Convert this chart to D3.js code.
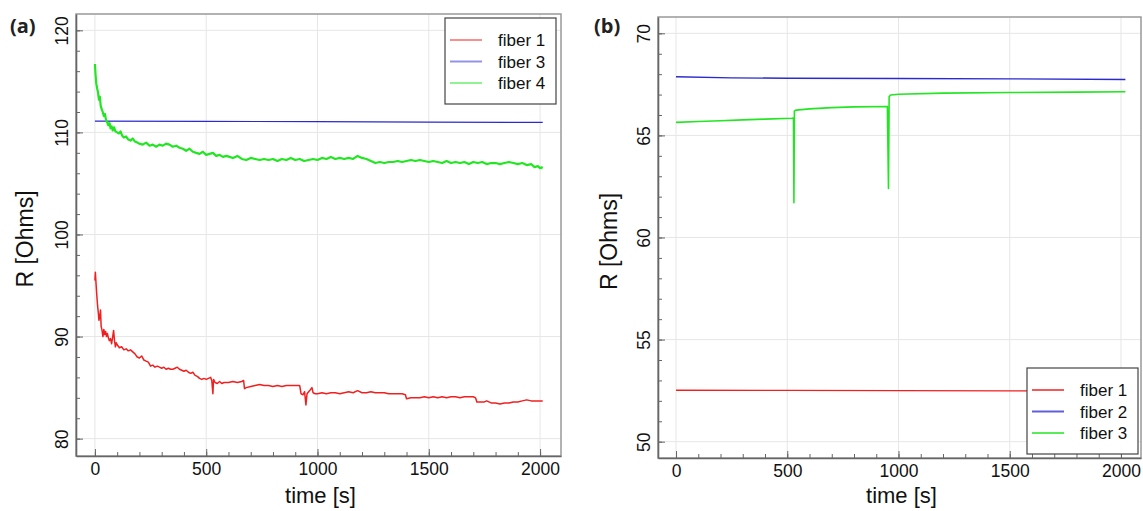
<!DOCTYPE html>
<html>
<head>
<meta charset="utf-8">
<script src="https://cdn.jsdelivr.net/npm/d3@7"></script>
<style>
  body { margin: 0; background: #fff; }
  svg { display: block; font-family: "Liberation Sans", Arial, sans-serif; }
</style>
</head>
<body>
<div id="chart"></div>
<script>
// ---- data ----
// panel (a)
const aFiber1 = [
  [0,95.5],[2,96.3],[5,95.2],[8,94.2],[12,93.0],[15,92.4],[18,91.6],[22,92.0],[25,92.6],[28,91.0],
  [32,90.6],[36,90.0],[40,90.7],[44,90.2],[48,90.5],[52,90.0],[56,90.3],[60,89.9],[65,89.6],[70,89.8],
  [75,89.3],[80,90.0],[84,90.6],[88,89.6],[92,89.0],[96,89.4],[100,89.2],[110,88.9],[120,89.0],[130,88.7],
  [140,88.8],[150,88.6],[160,88.7],[170,88.5],[180,88.3],[190,88.0],[200,87.9],[210,88.1],[220,87.7],[230,87.6],
  [240,87.5],[250,87.1],[260,87.2],[270,87.0],[280,87.1],[290,87.0],[300,86.9],[310,87.0],[320,86.8],[330,86.9],
  [340,86.8],[350,86.8],[360,86.9],[370,87.0],[380,86.8],[390,86.7],[400,86.6],[410,86.7],[420,86.5],[430,86.4],
  [440,86.5],[450,86.2],[460,86.1],[470,85.9],[480,85.8],[490,85.9],[500,85.8],[510,85.9],[520,86.0],[525,85.7],
  [530,84.4],[533,85.8],[540,85.5],[550,85.4],[560,85.6],[570,85.4],[580,85.5],[600,85.5],[620,85.6],[640,85.5],
  [660,85.6],[668,85.7],[672,84.9],[680,85.0],[700,85.1],[720,85.2],[740,85.3],[760,85.2],[780,85.2],[800,85.1],
  [820,85.2],[840,85.1],[860,85.2],[880,85.2],[900,85.2],[920,85.2],[926,84.4],[935,84.3],[942,84.6],[948,83.3],
  [953,84.4],[960,84.6],[968,84.8],[975,85.0],[980,84.5],[990,84.4],[1000,84.4],[1020,84.5],[1040,84.4],[1060,84.5],
  [1080,84.5],[1100,84.4],[1120,84.5],[1140,84.6],[1160,84.5],[1180,84.7],[1200,84.5],[1220,84.5],[1240,84.6],[1260,84.5],
  [1280,84.5],[1300,84.5],[1320,84.4],[1340,84.4],[1360,84.4],[1380,84.4],[1395,84.3],[1400,83.9],[1420,84.0],[1440,84.0],
  [1460,84.0],[1480,84.1],[1500,84.0],[1520,84.1],[1540,84.0],[1560,84.1],[1580,84.0],[1600,84.1],[1620,84.1],[1640,84.0],
  [1660,84.1],[1680,84.1],[1700,84.1],[1710,84.0],[1716,83.6],[1730,83.6],[1750,83.6],[1760,83.7],[1780,83.5],[1800,83.5],
  [1820,83.4],[1840,83.5],[1860,83.5],[1880,83.6],[1900,83.6],[1920,83.7],[1940,83.8],[1960,83.7],[1980,83.7],[2000,83.7],
  [2012,83.7]
];
const aFiber3 = [[0,111.1],[500,111.08],[1000,111.05],[1500,111.0],[2012,110.98]];
const aFiber4 = [
  [0,116.7],[3,115.6],[6,114.8],[10,114.3],[14,113.9],[18,113.2],[22,113.5],[26,112.6],[30,112.3],[35,112.0],
  [40,111.6],[45,111.8],[50,111.2],[55,111.0],[60,110.7],[66,110.9],[70,110.4],[75,110.6],[80,110.2],[86,110.5],
  [92,110.1],[100,110.0],[108,109.9],[115,110.1],[122,109.7],[130,109.5],[140,109.6],[150,109.3],[160,109.2],[170,109.4],
  [180,109.1],[190,109.0],[200,108.9],[215,108.8],[230,109.0],[245,108.7],[260,108.8],[275,108.6],[290,108.8],[305,108.7],
  [320,108.9],[335,108.8],[350,108.6],[365,108.7],[380,108.5],[395,108.4],[410,108.2],[425,108.4],[440,108.1],[455,108.0],
  [470,107.9],[485,108.1],[500,107.8],[515,107.9],[530,108.0],[545,107.7],[560,107.8],[575,107.6],[590,107.7],[605,107.6],
  [620,107.5],[640,107.7],[660,107.4],[680,107.3],[700,107.5],[720,107.4],[740,107.3],[760,107.4],[780,107.3],[800,107.4],
  [820,107.2],[840,107.4],[860,107.3],[880,107.5],[900,107.3],[920,107.4],[940,107.2],[960,107.3],[980,107.4],[1000,107.3],
  [1020,107.5],[1040,107.4],[1060,107.6],[1080,107.4],[1100,107.5],[1120,107.4],[1140,107.5],[1160,107.4],[1180,107.7],[1200,107.5],
  [1220,107.4],[1240,107.2],[1260,107.0],[1280,107.1],[1300,107.0],[1320,107.1],[1340,107.1],[1360,107.2],[1380,107.1],[1400,107.2],
  [1420,107.3],[1440,107.2],[1460,107.3],[1480,107.2],[1500,107.1],[1520,107.2],[1540,107.1],[1560,107.0],[1580,107.2],[1600,107.0],
  [1620,107.1],[1640,107.0],[1660,107.1],[1680,106.9],[1700,107.1],[1720,107.0],[1740,107.1],[1760,106.9],[1780,107.0],[1800,107.0],
  [1820,106.9],[1840,107.0],[1860,107.1],[1880,107.0],[1900,106.9],[1920,107.0],[1940,106.8],[1960,106.9],[1975,106.6],[1990,106.7],
  [2000,106.5],[2012,106.6]
];
// panel (b)
const bFiber1 = [[0,52.52],[500,52.51],[1000,52.5],[1500,52.49],[2020,52.48]];
const bFiber2 = [[0,67.87],[250,67.82],[500,67.8],[1000,67.79],[1500,67.77],[2020,67.74]];
const bFiber3 = [
  [0,65.64],[100,65.68],[200,65.72],[300,65.76],[400,65.8],[520,65.84],[528,65.85],[530,61.7],[532,66.2],[540,66.24],
  [600,66.3],[700,66.36],[800,66.4],[950,66.42],[955,62.4],[958,66.9],[965,66.98],[1000,67.02],[1200,67.07],[1500,67.1],
  [1800,67.12],[2020,67.14]
];

const xTicks = [0, 500, 1000, 1500, 2000];
const aYTicks = [80, 90, 100, 110, 120];
const bYTicks = [50, 55, 60, 65, 70];

const colRed = '#f02020', colBlue = '#2a2ad0', colGreen = '#22e622';

const width = 1143, height = 511;
const svg = d3.select('#chart').append('svg')
    .attr('width', width)
    .attr('height', height);

const panels = [
  {
    label: '(a)', labelX: 10, labelY: 33,
    box: {left: 76, top: 14, right: 561, bottom: 456},
    xDomain: [-85, 2094], yDomain: [78.3, 121.6],
    yTicks: aYTicks, yMinor: 2,
    yTitleX: 33, xTitleY: 503,
    series: [
      {name: 'fiber 1', data: aFiber1, color: colRed, w: 1.5},
      {name: 'fiber 3', data: aFiber3, color: colBlue, w: 1.2},
      {name: 'fiber 4', data: aFiber4, color: colGreen, w: 2.2}
    ],
    legend: {x: 445, y: 18, w: 111, h: 86},
    legendOpacity: 0.5
  },
  {
    label: '(b)', labelX: 594, labelY: 33,
    box: {left: 658, top: 17, right: 1141, bottom: 458},
    xDomain: [-81, 2090], yDomain: [49.2, 70.8],
    yTicks: bYTicks, yMinor: 1,
    yTitleX: 617, xTitleY: 503,
    series: [
      {name: 'fiber 1', data: bFiber1, color: colRed, w: 1.4},
      {name: 'fiber 2', data: bFiber2, color: colBlue, w: 1.4},
      {name: 'fiber 3', data: bFiber3, color: colGreen, w: 1.6}
    ],
    legend: {x: 1027, y: 368, w: 111, h: 86},
    legendOpacity: 0.75
  }
];

panels.forEach(p => {
  const b = p.box;
  const x = d3.scaleLinear().domain(p.xDomain).range([b.left, b.right]);
  const y = d3.scaleLinear().domain(p.yDomain).range([b.bottom, b.top]);
  const g = svg.append('g');

  // grid
  g.append('g').selectAll('line.gx')
    .data(xTicks).join('line')
      .attr('x1', d => x(d)).attr('x2', d => x(d))
      .attr('y1', b.top).attr('y2', b.bottom)
      .attr('stroke', '#e6e6e6');
  g.append('g').selectAll('line.gy')
    .data(p.yTicks).join('line')
      .attr('x1', b.left).attr('x2', b.right)
      .attr('y1', d => y(d)).attr('y2', d => y(d))
      .attr('stroke', '#e6e6e6');

  // lines
  const line = d3.line().x(d => x(d[0])).y(d => y(d[1]));
  p.series.forEach(s => {
    g.append('path')
      .datum(s.data)
      .attr('d', line)
      .attr('fill', 'none')
      .attr('stroke', s.color)
      .attr('stroke-width', s.w)
      .attr('stroke-linejoin', 'round');
  });

  // frame
  g.append('rect')
    .attr('x', b.left).attr('y', b.top)
    .attr('width', b.right - b.left).attr('height', b.bottom - b.top)
    .attr('fill', 'none')
    .attr('stroke', '#999')
    .attr('stroke-width', 1.5);

  // minor ticks
  const yMinor = d3.range(Math.ceil(p.yDomain[0] / p.yMinor) * p.yMinor, p.yDomain[1], p.yMinor);
  g.append('g')
    .attr('transform', `translate(${b.left},0)`)
    .call(d3.axisLeft(y).tickValues(yMinor).tickSize(-4).tickFormat(''))
    .call(a => a.select('.domain').remove())
    .selectAll('line').attr('stroke', '#666');
  g.append('g')
    .attr('transform', `translate(0,${b.bottom})`)
    .call(d3.axisBottom(x).tickValues(d3.range(0, 2001, 100)).tickSize(-4).tickFormat(''))
    .call(a => a.select('.domain').remove())
    .selectAll('line').attr('stroke', '#666');

  // major axes
  const yAxis = g.append('g')
    .attr('transform', `translate(${b.left},0)`)
    .call(d3.axisLeft(y).tickValues(p.yTicks).tickSize(-7).tickSizeOuter(0).tickFormat(d3.format('d')));
  yAxis.selectAll('text')
    .attr('transform', 'rotate(-90)')
    .attr('x', 0).attr('y', -8).attr('dy', null)
    .attr('text-anchor', 'middle');
  const xAxis = g.append('g')
    .attr('transform', `translate(0,${b.bottom})`)
    .call(d3.axisBottom(x).tickValues(xTicks).tickSize(-7).tickSizeOuter(0).tickPadding(7).tickFormat(d3.format('d')));
  [yAxis, xAxis].forEach(a => {
    a.select('.domain').attr('stroke', '#666').attr('stroke-width', 1.6);
    a.selectAll('line').attr('stroke', '#666');
    a.selectAll('text')
      .attr('fill', '#111')
      .style('font-size', '17.5px')
      .style('font-family', '"Liberation Sans", Arial, sans-serif');
  });

  // titles
  g.append('text')
    .attr('transform', `translate(${p.yTitleX},${(b.top + b.bottom) / 2 + 4}) rotate(-90)`)
    .attr('text-anchor', 'middle')
    .style('font-size', '23px')
    .attr('fill', '#111')
    .text('R [Ohms]');
  g.append('text')
    .attr('x', (b.left + b.right) / 2 + 2)
    .attr('y', p.xTitleY)
    .attr('text-anchor', 'middle')
    .style('font-size', '22px')
    .attr('fill', '#111')
    .text('time [s]');
  g.append('text')
    .attr('x', p.labelX).attr('y', p.labelY)
    .style('font-size', '20px')
    .style('font-weight', 'bold')
    .style('font-family', '"Open Sans", "DejaVu Sans", sans-serif')
    .attr('fill', '#222')
    .text(p.label);

  // legend
  const L = p.legend;
  const lg = g.append('g').attr('transform', `translate(${L.x},${L.y})`);
  lg.append('rect')
    .attr('width', L.w).attr('height', L.h)
    .attr('fill', '#fff')
    .attr('stroke', '#444')
    .attr('stroke-width', 1.2);
  p.series.forEach((s, i) => {
    const ly = 22 + i * 21.5;
    lg.append('line')
      .attr('x1', 5).attr('x2', 37)
      .attr('y1', ly).attr('y2', ly)
      .attr('stroke', s.color)
      .attr('stroke-opacity', p.legendOpacity)
      .attr('stroke-width', 2);
    lg.append('text')
      .attr('x', 53).attr('y', ly + 6)
      .style('font-size', '17px')
      .attr('fill', '#111')
      .text(s.name);
  });
});
</script>
</body>
</html>
